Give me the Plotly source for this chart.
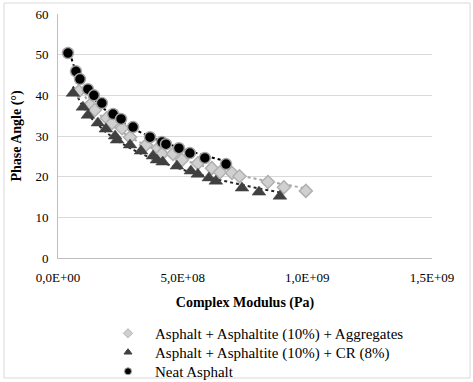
import numpy as np
import plotly.graph_objects as go

# ---- data ----
agg_x = [0.84e8, 1.28e8, 1.48e8, 1.96e8, 2.17e8, 2.57e8, 2.89e8, 3.53e8, 4.01e8, 4.17e8,
         4.61e8, 4.97e8, 5.61e8, 6.17e8, 6.50e8, 6.98e8, 7.28e8, 8.42e8, 9.06e8, 9.94e8]
agg_y = [41.0, 37.6, 36.4, 34.4, 33.2, 31.9, 29.7, 27.8, 27.0, 25.6,
         25.6, 24.1, 23.3, 22.1, 21.1, 20.9, 20.1, 18.7, 17.4, 16.5]

cr_x = [0.60e8, 1.00e8, 1.20e8, 1.60e8, 1.92e8, 2.29e8, 2.37e8, 2.89e8, 3.33e8, 3.81e8,
        3.97e8, 4.20e8, 4.77e8, 5.33e8, 5.61e8, 6.05e8, 6.33e8, 7.38e8, 8.06e8, 8.90e8]
cr_y = [40.5, 37.1, 35.1, 33.2, 31.7, 30.0, 29.0, 27.8, 26.3, 25.1,
        24.1, 23.6, 22.6, 21.4, 20.6, 19.7, 18.9, 17.2, 16.2, 15.2]

neat_x = [0.40e8, 0.72e8, 0.88e8, 1.20e8, 1.44e8, 1.76e8, 2.21e8, 2.53e8, 3.01e8, 3.69e8,
          4.17e8, 4.33e8, 4.85e8, 5.29e8, 5.89e8, 6.74e8]
neat_y = [50.4, 45.9, 44.0, 41.5, 40.0, 38.1, 35.4, 34.2, 32.2, 29.7,
          28.5, 28.0, 27.0, 25.8, 24.6, 23.1]

x_tickvals = [0, 5e8, 1e9, 1.5e9]
x_ticktext = ["0,0E+00", "5,0E+08", "1,0E+09", "1,5E+09"]
y_tickvals = [0, 10, 20, 30, 40, 50, 60]

names = ["Asphalt + Asphaltite (10%) + Aggregates",
         "Asphalt + Asphaltite (10%) + CR (8%)",
         "Neat Asphalt"]

FONT = "Liberation Serif, Times New Roman, serif"


def log_trend(xs, ys):
    lx = np.log(np.array(xs))
    a, b = np.polyfit(lx, np.array(ys), 1)
    xx = np.linspace(min(xs), max(xs), 60)
    return xx, a * np.log(xx) + b


fig = go.Figure()

series = [
    (agg_x, agg_y, names[0],
     dict(symbol="diamond", size=10, color="#d0d0d0", line=dict(color="#b0b0b0", width=1.5)),
     "#a6a6a6"),
    (cr_x, cr_y, names[1],
     dict(symbol="triangle-up", size=12, color="#404040", line=dict(color="#404040", width=0.5)),
     "#262626"),
    (neat_x, neat_y, names[2],
     dict(symbol="circle", size=11, color="#000000", line=dict(color="#a6a6a6", width=1.5)),
     "#000000"),
]

for xs, ys, nm, mk, lc in series:
    tx, ty = log_trend(xs, ys)
    fig.add_trace(go.Scatter(x=tx, y=ty, mode="lines", showlegend=False, hoverinfo="skip",
                             line=dict(color=lc, width=2, dash="dot")))

for xs, ys, nm, mk, lc in series:
    fig.add_trace(go.Scatter(x=xs, y=ys, mode="markers", name=nm, marker=mk, showlegend=False))

# small legend swatches, one legend per row
legend_ids = ["legend", "legend2", "legend3"]
legend_tops = [317, 336, 355]
for (xs, ys, nm, mk, lc), lid in zip(series, legend_ids):
    small = dict(mk)
    small["size"] = 7
    small["line"] = dict(color=mk["line"]["color"], width=1)
    fig.add_trace(go.Scatter(x=[None], y=[None], mode="markers", name=nm, marker=small,
                             legend=lid))

legend_common = dict(x=(101 - 58) / 374, xanchor="left", yanchor="top", yref="container",
                     font=dict(family=FONT, size=15, color="black"), itemwidth=44,
                     bgcolor="rgba(0,0,0,0)", tracegroupgap=0)

fig.update_layout(
    width=473, height=382,
    margin=dict(l=58, r=41, t=14, b=124),
    paper_bgcolor="white", plot_bgcolor="white",
    font=dict(family=FONT, size=13, color="black"),
    showlegend=True,
    legend=dict(y=1 - legend_tops[0] / 382, **legend_common),
    legend2=dict(y=1 - legend_tops[1] / 382, **legend_common),
    legend3=dict(y=1 - legend_tops[2] / 382, **legend_common),
    xaxis=dict(range=[0, 1.5e9], tickvals=x_tickvals, ticktext=x_ticktext, automargin=False,
               showgrid=False, zeroline=False, showline=True, linecolor="#bfbfbf",
               linewidth=1, ticks="", ticklabelstandoff=7, tickfont=dict(family=FONT, size=13),
               title=dict(text="<b>Complex Modulus (Pa)</b>", font=dict(family=FONT, size=14),
                          standoff=13)),
    yaxis=dict(range=[0, 60], tickvals=y_tickvals, showgrid=True, gridcolor="#d9d9d9",
               automargin=False,
               zeroline=False, showline=True, linecolor="#bfbfbf", linewidth=1, ticks="",
               ticklabelstandoff=6, tickfont=dict(family=FONT, size=13),
               title=dict(text="<b>Phase Angle (°)</b>", font=dict(family=FONT, size=14),
                          standoff=10)),
    shapes=[dict(type="rect", xref="paper", yref="paper",
                 x0=(4 - 58) / 374, x1=(470 - 58) / 374,
                 y0=(258 - 378) / 244, y1=(258 - 3) / 244,
                 line=dict(color="#d9d9d9", width=1), fillcolor="rgba(0,0,0,0)", layer="below")],
)

fig.write_html("out.html", config={"displayModeBar": False},
               post_script="document.body.style.margin='0';document.body.style.overflow='hidden';")
